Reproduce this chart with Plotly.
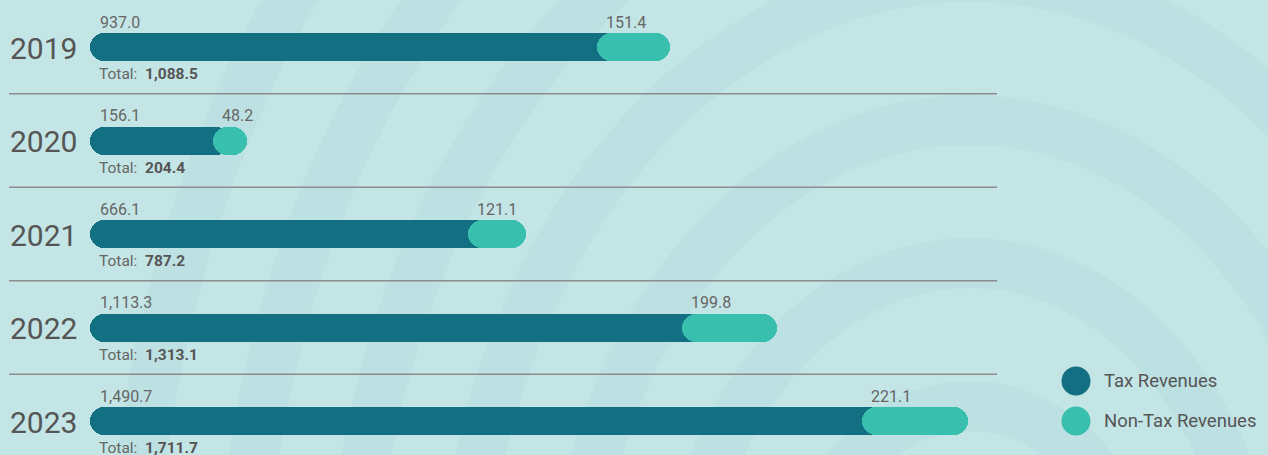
import plotly.graph_objects as go

# ---------------- data ----------------
years = ["2019", "2020", "2021", "2022", "2023"]
tax_revenues = [937.0, 156.1, 666.1, 1113.3, 1490.7]
non_tax_revenues = [151.4, 48.2, 121.1, 199.8, 221.1]
totals = [1088.5, 204.4, 787.2, 1313.1, 1711.7]
series_names = ["Tax Revenues", "Non-Tax Revenues"]

# ---------------- style ----------------
W, H = 1268, 455
PX_PER_UNIT = 0.478          # horizontal scale
ZERO_PX = 149.5              # pixel of value 0
CAP_PX = 59.5                # visual extension of bar start left of zero
MIN_PILL_PX = 34             # minimum width of non-tax pill
ROW0_PX, ROW_STEP_PX = 47, 93.5
BAR_PX = 28
DARK = "#136f82"
LIGHT = "#38bfad"
BG = "#c4e5e5"
TXT = "#666666"
TXT_DARK = "#555555"
FONT = "Roboto"

x_min = -ZERO_PX / PX_PER_UNIT
x_max = x_min + W / PX_PER_UNIT
y_top = -ROW0_PX / ROW_STEP_PX
y_bot = (H - ROW0_PX) / ROW_STEP_PX
bar_w = BAR_PX / ROW_STEP_PX
cap = CAP_PX / PX_PER_UNIT
min_pill = MIN_PILL_PX / PX_PER_UNIT

bar_start = [-cap for _ in years]
pill_start = [min(t, tot - min_pill) for t, tot in zip(tax_revenues, totals)]
pill_mid = [(ps + tot) / 2 for ps, tot in zip(pill_start, totals)]

fig = go.Figure()
# dark bar: from start to the middle of the pill (hidden end)
fig.add_trace(go.Bar(
    y=years, base=bar_start, x=[m - s for s, m in zip(bar_start, pill_mid)],
    orientation="h", width=bar_w, marker=dict(color=DARK, cornerradius=BAR_PX / 2, line_width=0),
    name=series_names[0], showlegend=False, hoverinfo="skip"))
# light pill
fig.add_trace(go.Bar(
    y=years, base=pill_start, x=[tot - ps for tot, ps in zip(totals, pill_start)],
    orientation="h", width=bar_w, marker=dict(color=LIGHT, cornerradius=BAR_PX / 2, line_width=0),
    name=series_names[1], showlegend=False, hoverinfo="skip"))

annotations = []
for i, yr in enumerate(years):
    annotations.append(dict(x=8 / W, xref="paper", y=i, yref="y", text=yr, showarrow=False,
                            xanchor="left", yanchor="middle", yshift=-1,
                            font=dict(family=FONT, size=30, color="#555555")))
    annotations.append(dict(x=bar_start[i], xref="x", y=i, yref="y", text=f"{tax_revenues[i]:,.1f}",
                            showarrow=False, xanchor="left", yanchor="middle", xshift=8, yshift=25,
                            font=dict(family=FONT, size=16, color=TXT)))
    annotations.append(dict(x=pill_start[i], xref="x", y=i, yref="y", text=f"{non_tax_revenues[i]:,.1f}",
                            showarrow=False, xanchor="left", yanchor="middle", xshift=7, yshift=25,
                            font=dict(family=FONT, size=16, color=TXT)))
    annotations.append(dict(x=bar_start[i], xref="x", y=i, yref="y",
                            text=f"Total:&nbsp; <b><span style='color:{TXT_DARK}'>{totals[i]:,.1f}</span></b>",
                            showarrow=False, xanchor="left", yanchor="middle", xshift=7, yshift=-27,
                            font=dict(family=FONT, size=15.5, color=TXT)))

shapes = []
# faint decorative background arcs
for r in [180, 290, 400, 510, 620, 730, 840]:
    shapes.append(dict(type="circle", xref="paper", yref="paper", xsizemode="pixel", ysizemode="pixel",
                       xanchor=970 / W, yanchor=1 - 640 / H, x0=-r, x1=r, y0=-1.3 * r, y1=1.3 * r,
                       line=dict(color="rgba(150,208,210,0.14)", width=50),
                       fillcolor="rgba(0,0,0,0)", layer="below"))

for i in range(len(years) - 1):
    shapes.append(dict(type="line", xref="paper", yref="y", x0=9 / W, x1=997 / W,
                       y0=i + 0.5, y1=i + 0.5, line=dict(color="#8c8c8c", width=1.5), layer="below"))

# legend (manual, large circular keys)
legend_items = [(series_names[0], DARK, 381), (series_names[1], LIGHT, 421)]
for name, col, ypx in legend_items:
    shapes.append(dict(type="circle", xref="paper", yref="paper", xsizemode="pixel", ysizemode="pixel",
                       xanchor=1076 / W, yanchor=1 - ypx / H, x0=-14.5, x1=14.5, y0=-14.5, y1=14.5,
                       fillcolor=col, line_width=0))
    annotations.append(dict(x=1102 / W, xref="paper", y=1 - ypx / H, yref="paper", text=name,
                            showarrow=False, xanchor="left", yanchor="middle",
                            font=dict(family=FONT, size=18.5, color=TXT_DARK)))

fig.update_layout(
    width=W, height=H, margin=dict(l=0, r=0, t=0, b=0),
    paper_bgcolor=BG, plot_bgcolor="rgba(0,0,0,0)", barmode="overlay", bargap=0,
    showlegend=False, annotations=annotations, shapes=shapes,
    xaxis=dict(range=[x_min, x_max], visible=False, fixedrange=True),
    yaxis=dict(range=[y_bot, y_top], visible=False, type="category",
               categoryorder="array", categoryarray=years, fixedrange=True),
    font=dict(family=FONT),
)

fig.write_html("out.html", config={"displayModeBar": False},
               post_script="document.body.style.margin='0';")
